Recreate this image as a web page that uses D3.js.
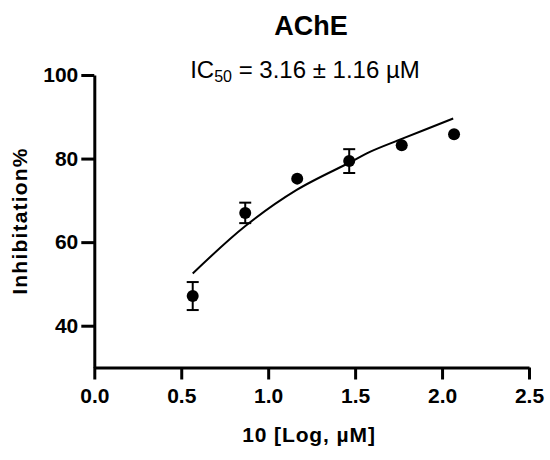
<!DOCTYPE html>
<html>
<head>
<meta charset="utf-8">
<script src="https://cdn.jsdelivr.net/npm/d3@7/dist/d3.min.js"></script>
<style>
  html, body { margin: 0; padding: 0; background: #fff; }
  svg { display: block; }
  text { font-family: "Liberation Sans", Arial, Helvetica, sans-serif; fill: #000; }
</style>
</head>
<body>
<svg id="chart" width="550" height="460"></svg>
<script>
// ---- data ----
const logConc = [0.566, 0.868, 1.167, 1.466, 1.768, 2.069];
const inhibitionMean = [47.1, 67.0, 75.2, 79.4, 83.2, 85.8];
const inhibitionSD = [3.35, 2.45, null, 2.85, null, null];
const fitX = [0.566, 0.867, 1.164, 1.466, 1.585, 1.768, 2.064];
const fitY = [52.5, 63.8, 72.5, 79.0, 81.6, 84.7, 89.6];
const xTicks = [0, 0.5, 1.0, 1.5, 2.0, 2.5];
const yTicks = [40, 60, 80, 100];
const titleText = "AChE";
const xLabel = "10 [Log, µM]";
const yLabel = "Inhibitation%";

// ---- layout ----
const svg = d3.select("#chart");
const x = d3.scaleLinear().domain([0, 2.5]).range([94.3, 529]);
const y = d3.scaleLinear().domain([30, 100]).range([367.5, 75]);

// axes
const xAxis = d3.axisBottom(x).tickValues(xTicks).tickFormat(d3.format(".1f"))
  .tickSize(12).tickPadding(9).tickSizeOuter(0);
const gx = svg.append("g").attr("transform", `translate(0,${y(30)})`).call(xAxis);
gx.select(".domain").attr("stroke", "#000").attr("stroke-width", 3);
gx.selectAll(".tick line").attr("stroke", "#000").attr("stroke-width", 3);
gx.selectAll(".tick text").attr("font-size", 21).attr("font-weight", "bold");

const yAxis = d3.axisLeft(y).tickValues(yTicks).tickFormat(d3.format("d"))
  .tickSize(13).tickPadding(3).tickSizeOuter(0);
const gy = svg.append("g").attr("transform", `translate(${x(0)},0)`).call(yAxis);
gy.select(".domain").attr("stroke", "#000").attr("stroke-width", 3);
gy.selectAll(".tick line").attr("stroke", "#000").attr("stroke-width", 3);
gy.selectAll(".tick text").attr("font-size", 21).attr("font-weight", "bold");

// fitted curve
const line = d3.line().x((d, i) => x(fitX[i])).y((d, i) => y(fitY[i])).curve(d3.curveCatmullRom);
svg.append("path").datum(fitX).attr("d", line)
  .attr("fill", "none").attr("stroke", "#000").attr("stroke-width", 2);

// error bars
const pts = logConc.map((v, i) => ({ x: v, m: inhibitionMean[i], sd: inhibitionSD[i] }));
const eb = svg.append("g").attr("stroke", "#000").attr("stroke-width", 2);
pts.filter(d => d.sd != null).forEach(d => {
  eb.append("line").attr("x1", x(d.x)).attr("x2", x(d.x)).attr("y1", y(d.m - d.sd)).attr("y2", y(d.m + d.sd));
  [d.m - d.sd, d.m + d.sd].forEach(v => {
    eb.append("line").attr("x1", x(d.x) - 6).attr("x2", x(d.x) + 6).attr("y1", y(v)).attr("y2", y(v));
  });
});

// points
svg.append("g").selectAll("circle").data(pts).join("circle")
  .attr("cx", d => x(d.x)).attr("cy", d => y(d.m)).attr("r", 6).attr("fill", "#000");

// titles
svg.append("text").attr("x", 311).attr("y", 35).attr("text-anchor", "middle")
  .attr("font-size", 27).attr("font-weight", "bold").text(titleText);

const sub = svg.append("text").attr("x", 305).attr("y", 78).attr("text-anchor", "middle").attr("font-size", 24);
sub.append("tspan").text("IC");
sub.append("tspan").attr("font-size", 16).attr("dy", 4).text("50");
sub.append("tspan").attr("dy", -4).text(" = 3.16 ± 1.16 µM");

svg.append("text").attr("x", 309).attr("y", 442).attr("text-anchor", "middle")
  .attr("font-size", 21).attr("font-weight", "bold").attr("letter-spacing", 0.9).text(xLabel);

svg.append("text").attr("transform", "translate(27,221) rotate(-90)").attr("text-anchor", "middle")
  .attr("font-size", 21).attr("font-weight", "bold").attr("letter-spacing", 1.2).text(yLabel);
</script>
</body>
</html>
